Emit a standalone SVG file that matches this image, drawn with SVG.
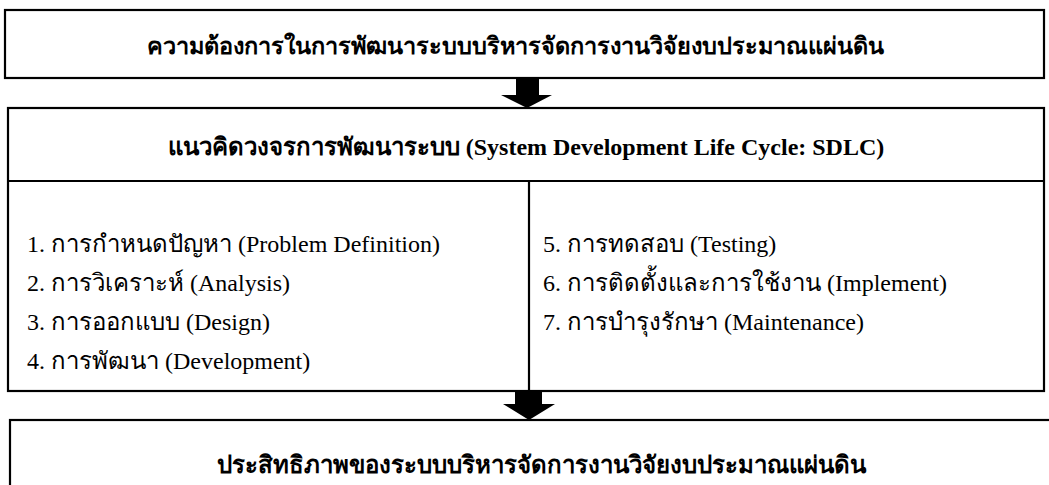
<svg xmlns="http://www.w3.org/2000/svg" width="1049" height="485" viewBox="0 0 1049 485">
<style>
.box{fill:#fff;stroke:#000;stroke-width:2.2}
.ln{stroke:#000;stroke-width:2.2;fill:none}
.t{font-family:"Liberation Serif","Noto Sans CJK SC",serif;font-size:24px;fill:#000}
.b{font-weight:bold;text-anchor:middle}
.arr{fill:#000}
</style>
<rect width="1049" height="485" fill="#fff"/>
<g id="need">
<rect class="box" x="5" y="10" width="1039" height="68"/>
<text class="t b" x="515" y="54" style="font-size:23.5px">ความต้องการในการพัฒนาระบบบริหารจัดการงานวิจัยงบประมาณแผ่นดิน</text>
</g>
<g id="sdlc">
<rect class="box" x="8" y="108" width="1036" height="283"/>
<line class="ln" x1="8" y1="181" x2="1044" y2="181"/>
<line class="ln" x1="529" y1="181" x2="529" y2="391"/>
<text class="t b" x="526" y="155">แนวคิดวงจรการพัฒนาระบบ (System Development Life Cycle: SDLC)</text>
<text class="t" x="27" y="252">1. การกำหนดปัญหา (Problem Definition)</text>
<text class="t" x="27" y="291">2. การวิเคราะห์ (Analysis)</text>
<text class="t" x="27" y="330">3. การออกแบบ (Design)</text>
<text class="t" x="27" y="369">4. การพัฒนา (Development)</text>
<text class="t" x="543" y="252">5. การทดสอบ (Testing)</text>
<text class="t" x="543" y="291">6. การติดตั้งและการใช้งาน (Implement)</text>
<text class="t" x="543" y="330">7. การบำรุงรักษา (Maintenance)</text>
</g>
<g id="result">
<rect class="box" x="10" y="420" width="1060" height="100"/>
<text class="t b" x="541" y="473">ประสิทธิภาพของระบบบริหารจัดการงานวิจัยงบประมาณแผ่นดิน</text>
</g>
<g id="connectors">
<polygon class="arr" points="516,79 539,79 539,95 552,95 527,108 501,95 516,95"/>
<polygon class="arr" points="515,392 542,392 542,404 555,404 529,420 503,404 515,404"/>
</g>
</svg>
